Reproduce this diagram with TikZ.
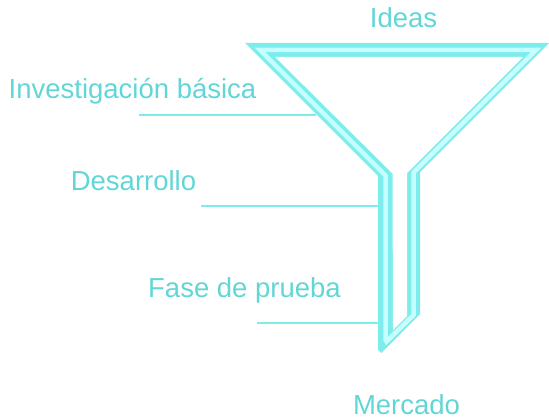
\documentclass[tikz,border=0pt]{standalone}
\usepackage{fontspec}
\setmainfont{Liberation Sans}
\definecolor{txtc}{RGB}{98,214,214}
\definecolor{funnelc}{RGB}{125,236,236}
\definecolor{stripec}{RGB}{198,255,255}
\begin{document}
\begin{tikzpicture}[x=1pt,y=-1pt,
  lbl/.style={text=txtc,inner sep=0pt,anchor=base,text depth=0pt,font=\fontsize{27.5}{33}\selectfont},
  leader/.style={draw=funnelc,line width=2pt}]
\useasboundingbox (0,0) rectangle (549,420);
% leader lines
\coordinate (l1a) at (139,114.5); \coordinate (l1b) at (316,114.5);
\coordinate (l2a) at (201,206);   \coordinate (l2b) at (380,206);
\coordinate (l3a) at (257,323);   \coordinate (l3b) at (380,323);
\draw[leader] (l1a) -- (l1b);
\draw[leader] (l2a) -- (l2b);
\draw[leader] (l3a) -- (l3b);
% funnel
\fill[funnelc] (245,43) -- (549,43) -- (420,172) -- (420,314) -- (381.5,353) -- (378,350) -- (378,176) -- cycle;
\draw[stripec,line width=4.5pt,line join=miter] (260,50) -- (536,50) -- (413.5,172.5) -- (413.5,315) -- (386.5,341.5) -- (385.5,340) -- (385.5,175.5) -- cycle;
\fill[white] (275,57) -- (523,57) -- (407,173) -- (407,316) -- (393,330) -- (392.5,173.5) -- cycle;
% labels
\node[lbl] (ideas) at (403.5,28) {Ideas};
\node[lbl] (inv) at (132.5,99) {Investigación básica};
\node[lbl] (des) at (133.5,190) {Desarrollo};
\node[lbl] (fase) at (244.5,297) {Fase de prueba};
\node[lbl] (merc) at (406.5,414.5) {Mercado};
\end{tikzpicture}
\end{document}
